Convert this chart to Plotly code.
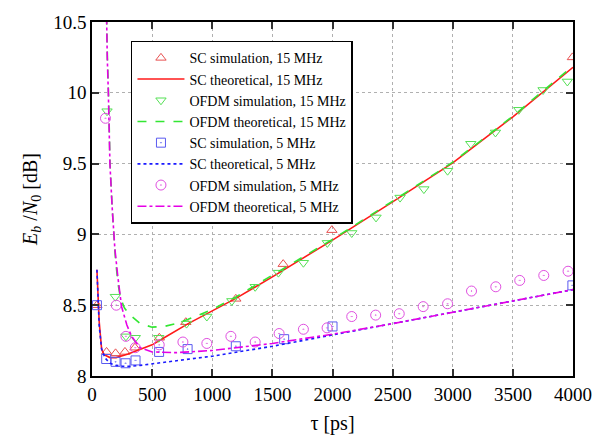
import plotly.graph_objects as go

# ---- simulation points ----
sc15_x = [41, 121, 196, 274, 357, 560, 780, 1196, 1590, 1995, 3995]
sc15_y = [8.50, 8.17, 8.16, 8.17, 8.20, 8.27, 8.38, 8.545, 8.79, 9.03, 10.25]

ofdm15_x = [125, 194, 282, 360, 555, 786, 955, 1163, 1357, 1550, 1758, 1957, 2160, 2362,
            2562, 2760, 2957, 3150, 3355, 3549, 3751, 3953]
ofdm15_y = [9.87, 8.56, 8.28, 8.27, 8.27, 8.37, 8.42, 8.53, 8.63, 8.73, 8.80, 8.94, 9.01, 9.12,
            9.26, 9.32, 9.45, 9.64, 9.72, 9.88, 10.02, 10.08]

sc5_x = [41, 118, 196, 279, 362, 558, 795, 1196, 1598, 2000, 3995]
sc5_y = [8.50, 8.12, 8.10, 8.09, 8.11, 8.17, 8.19, 8.21, 8.26, 8.35, 8.64]

ofdm5_x = [112, 202, 282, 360, 559, 756, 955, 1155, 1357, 1556, 1758, 1955, 2160, 2359,
           2555, 2754, 2957, 3156, 3358, 3557, 3757, 3959]
ofdm5_y = [9.82, 8.50, 8.28, 8.20, 8.22, 8.24, 8.23, 8.28, 8.24, 8.30, 8.33, 8.34, 8.42, 8.43,
           8.44, 8.49, 8.51, 8.60, 8.63, 8.675, 8.71, 8.74]

# ---- theoretical curves ----
sc15t_x = [41, 50, 60, 80, 100, 150, 200, 300, 400, 500, 600, 800, 1000, 1200, 1500,
           2000, 2500, 3000, 3500, 4000]
sc15t_y = [8.75, 8.55, 8.38, 8.19, 8.15, 8.13, 8.13, 8.155, 8.19, 8.22, 8.27, 8.37, 8.46,
           8.55, 8.70, 8.96, 9.23, 9.505, 9.83, 10.18]

ofdm15t_x = [116, 121, 128, 137, 150, 169, 195, 215, 237, 270, 306, 400, 500, 600, 700, 800,
             1000, 1200, 1500, 2000, 2500, 3000, 3500, 4000]
ofdm15t_y = [10.8, 10.5, 10.25, 10.0, 9.5, 9.17, 8.83, 8.66, 8.55, 8.48, 8.44, 8.37, 8.345,
             8.35, 8.37, 8.40, 8.47, 8.56, 8.71, 8.965, 9.235, 9.51, 9.835, 10.19]

sc5t_x = [41, 50, 60, 80, 110, 150, 200, 250, 300, 400, 500, 700, 1000, 1500, 2000, 2500,
          3000, 3500, 4000]
sc5t_y = [8.75, 8.52, 8.35, 8.19, 8.125, 8.09, 8.075, 8.07, 8.068, 8.075, 8.085, 8.105,
          8.14, 8.21, 8.29, 8.37, 8.45, 8.53, 8.61]

ofdm5t_x = [116, 120, 127, 136, 149, 167, 180, 190, 215, 246, 290, 329, 400, 500, 700, 1000,
            1500, 2000, 2500, 3000, 3500, 4000]
ofdm5t_y = [10.8, 10.5, 10.25, 10.0, 9.5, 9.2, 9.0, 8.9, 8.7, 8.49, 8.36, 8.28, 8.20, 8.17,
            8.165, 8.18, 8.23, 8.295, 8.37, 8.45, 8.53, 8.61]

x_ticks = [0, 500, 1000, 1500, 2000, 2500, 3000, 3500, 4000]
y_ticks = [8, 8.5, 9, 9.5, 10, 10.5]
y_ticktext = ["8", "8.5", "9", "9.5", "10", "10.5"]

FONT = "Liberation Serif, Times New Roman, serif"
RED, GREEN, BLUE, MAG = "#ff1a1a", "#33e633", "#1a1aff", "#e600e6"
RED_M, GREEN_M, BLUE_M, MAG_M = "#e85050", "#55e055", "#5a5af0", "#e050e0"

fig = go.Figure()
fig.add_trace(go.Scatter(x=sc15_x, y=sc15_y, mode="markers", name="SC simulation, 15 MHz",
                         marker=dict(symbol="triangle-up-open", size=9, color=RED_M, line=dict(width=1))))
fig.add_trace(go.Scatter(x=sc15t_x, y=sc15t_y, mode="lines", name="SC theoretical, 15 MHz",
                         line=dict(color=RED, width=1.6)))
fig.add_trace(go.Scatter(x=ofdm15_x, y=ofdm15_y, mode="markers", name="OFDM simulation, 15 MHz",
                         marker=dict(symbol="triangle-down-open", size=9, color=GREEN_M, line=dict(width=1))))
fig.add_trace(go.Scatter(x=ofdm15t_x, y=ofdm15t_y, mode="lines", name="OFDM theoretical, 15 MHz",
                         line=dict(color=GREEN, width=1.6, dash="dash")))
fig.add_trace(go.Scatter(x=sc5_x, y=sc5_y, mode="markers", name="SC simulation, 5 MHz",
                         marker=dict(symbol="square-open-dot", size=9, color=BLUE_M, line=dict(width=1))))
fig.add_trace(go.Scatter(x=sc5t_x, y=sc5t_y, mode="lines", name="SC theoretical, 5 MHz",
                         line=dict(color=BLUE, width=1.6, dash="dot")))
fig.add_trace(go.Scatter(x=ofdm5_x, y=ofdm5_y, mode="markers", name="OFDM simulation, 5 MHz",
                         marker=dict(symbol="circle-open-dot", size=10, color=MAG_M, line=dict(width=1))))
fig.add_trace(go.Scatter(x=ofdm5t_x, y=ofdm5t_y, mode="lines", name="OFDM theoretical, 5 MHz",
                         line=dict(color=MAG, width=1.6, dash="dashdot")))

axis_common = dict(showline=True, linecolor="black", linewidth=1.5, mirror="ticks",
                   ticks="inside", ticklen=7, tickwidth=1.5, tickcolor="#333",
                   showgrid=True, gridcolor="#b0b0b0", griddash="dot", gridwidth=1,
                   zeroline=False, tickfont=dict(family=FONT, size=19, color="black"))

fig.update_xaxes(range=[0, 4000], tickvals=x_ticks, ticktext=[str(v) for v in x_ticks],
                 title=dict(text="τ [ps]", font=dict(family=FONT, size=20, color="black"), standoff=12),
                 **axis_common)
fig.update_yaxes(range=[8, 10.5], tickvals=y_ticks, ticktext=y_ticktext,
                 title=dict(text="<i>E</i><sub><i>b</i></sub> /<i>N</i><sub>0</sub> [dB]",
                            font=dict(family=FONT, size=20, color="black"), standoff=10),
                 **axis_common)

fig.update_layout(
    width=608, height=443,
    margin=dict(l=92, r=35, t=15, b=62),
    plot_bgcolor="white", paper_bgcolor="white",
    font=dict(family=FONT, color="black"),
    legend=dict(x=0.081, y=0.947, xanchor="left", yanchor="top",
                bgcolor="white", bordercolor="black", borderwidth=1.5,
                font=dict(family=FONT, size=14, color="black"),
                tracegroupgap=0, itemwidth=47),
    showlegend=True,
)

fig.write_html("out.html")
